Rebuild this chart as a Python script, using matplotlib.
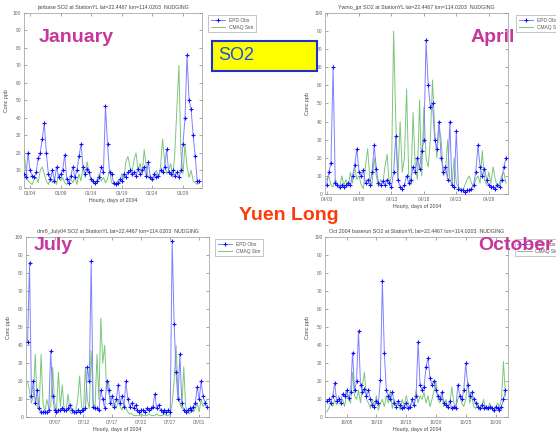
import numpy as np
import pandas as pd
import matplotlib
matplotlib.use('Agg')
import matplotlib.pyplot as plt
import matplotlib.dates as mdates

# ---- data (8-hourly samples) ----
jan_start = '2004-01-03 00:00'
jan_obs = [8, 6, 20, 10, 7, 6, 9, 17, 20, 28, 37, 20, 8, 5, 10, 4, 12, 6, 8, 10, 19,
           5, 3, 7, 12, 6, 10, 18, 25, 12, 8, 11, 9, 5, 4, 3, 4, 6, 12, 9, 47, 25,
           9, 8, 3, 2, 3, 5, 4, 8, 6, 9, 10, 8, 9, 7, 11, 8, 10, 12, 7, 15, 6,
           5, 8, 6, 7, 10, 9, 12, 22, 9, 8, 10, 7, 9, 6, 10, 25, 40, 76, 50, 45, 30,
           18, 4, 4]
jan_sim = [22, 10, 4, 3, 2, 5, 6, 3, 10, 12, 8, 4, 2, 6, 3, 5, 2, 8, 4, 6, 3,
           2, 4, 5, 3, 6, 2, 8, 4, 12, 6, 15, 8, 4, 3, 2, 5, 8, 4, 6, 3, 5,
           10, 3, 2, 2, 4, 3, 8, 5, 15, 18, 12, 9, 16, 20, 10, 14, 8, 22, 12, 6, 5,
           4, 8, 10, 6, 12, 28, 15, 8, 10, 14, 6, 20, 45, 70, 20, 8, 25, 12, 6, 10, 4,
           3, 2, 3]

apr_start = '2004-04-03 00:00'
apr_obs = [5, 12, 17, 70, 6, 5, 4, 5, 4, 5, 6, 5, 10, 16, 25, 12, 10, 13, 6, 8, 5,
           12, 27, 14, 6, 5, 7, 5, 8, 6, 4, 12, 32, 8, 4, 3, 5, 10, 6, 8, 15, 12,
           20, 14, 24, 30, 85, 60, 48, 50, 30, 25, 40, 20, 12, 15, 8, 40, 5, 4,
           35, 3, 2, 2, 1, 2, 2, 3, 5, 12, 27, 15, 10, 14, 8, 5, 4, 4, 3, 5, 4,
           8, 15, 20]
apr_sim = [8, 10, 5, 4, 8, 6, 3, 10, 5, 8, 4, 12, 6, 15, 8, 10, 5, 3, 16, 25, 8,
           5, 20, 10, 4, 8, 6, 15, 22, 5, 10, 90, 40, 8, 40, 12, 20, 58, 10, 5, 45, 15,
           8, 52, 10, 48, 20, 15, 30, 63, 35, 20, 38, 30, 10, 12, 30, 8, 5, 20,
           6, 4, 3, 2, 5, 8, 10, 6, 4, 8, 10, 6, 24, 8, 5, 12, 6, 15, 8, 4, 6,
           10, 12, 6]

jul_start = '2004-07-02 08:00'
jul_obs = [42, 86, 12, 20, 8, 15, 5, 3, 3, 3, 3, 4, 37, 12, 4, 3, 4, 4, 5, 4, 4,
           5, 7, 4, 3, 3, 4, 3, 4, 4, 5, 28, 20, 87, 6, 5, 5, 4, 15, 10, 5, 20,
           15, 8, 12, 6, 10, 18, 8, 12, 6, 20, 10, 6, 8, 5, 7, 4, 3, 4, 4, 3, 5,
           4, 5, 6, 13, 5, 7, 4, 3, 4, 3, 4, 3, 98, 52, 25, 10, 35, 8, 4, 3, 4,
           5, 4, 6, 8, 17, 10, 20, 12, 8, 6]
jul_sim = [20, 15, 8, 12, 35, 6, 4, 35, 8, 3, 10, 5, 6, 28, 8, 4, 25, 6, 18, 3, 4,
           13, 3, 2, 3, 4, 10, 23, 6, 4, 28, 10, 5, 37, 8, 6, 35, 10, 55, 30, 40, 15,
           20, 10, 6, 8, 5, 10, 6, 4, 8, 5, 3, 2, 2, 1, 1, 1, 1, 2, 1, 1, 1,
           2, 1, 1, 1, 2, 1, 1, 1, 2, 1, 1, 2, 8, 20, 40, 15, 8, 5, 28, 6, 3,
           2, 4, 3, 5, 8, 3, 10, 6, 8, 10]

oct_start = '2004-10-01 16:00'
oct_obs = [9, 10, 8, 12, 19, 9, 10, 8, 13, 12, 15, 11, 14, 36, 15, 20, 48, 18, 14, 16, 12,
           15, 10, 7, 6, 9, 8, 21, 76, 36, 15, 12, 10, 14, 8, 6, 9, 7, 5, 6, 8, 5,
           6, 10, 7, 12, 42, 18, 15, 17, 28, 33, 22, 18, 20, 15, 12, 10, 14, 8, 7, 6, 9,
           5, 6, 5, 18, 12, 10, 15, 30, 18, 12, 14, 10, 8, 6, 5, 7, 5, 6, 5, 6, 5,
           4, 6, 5, 4, 6, 10, 15]
oct_sim = [3, 5, 8, 6, 10, 7, 12, 8, 10, 6, 14, 10, 8, 25, 12, 10, 15, 8, 18, 25, 10,
           8, 5, 10, 6, 12, 4, 8, 10, 6, 12, 8, 15, 5, 10, 6, 8, 4, 10, 6, 12, 8,
           5, 10, 6, 15, 8, 12, 10, 14, 8, 12, 6, 10, 15, 20, 10, 8, 12, 6, 10, 5, 8,
           17, 8, 6, 10, 12, 8, 6, 10, 20, 8, 12, 6, 5, 8, 4, 6, 10, 5, 4, 8, 6,
           3, 5, 8, 6, 10, 31, 12]

jan_ticks = ['2004-01-04', '2004-01-09', '2004-01-14', '2004-01-19', '2004-01-24', '2004-01-29']
apr_ticks = ['2004-04-03', '2004-04-08', '2004-04-13', '2004-04-18', '2004-04-23', '2004-04-28']
jul_ticks = ['2004-07-07', '2004-07-12', '2004-07-17', '2004-07-22', '2004-07-27', '2004-08-01']
oct_ticks = ['2004-10-05', '2004-10-10', '2004-10-15', '2004-10-20', '2004-10-25', '2004-10-30']

titles = ['janbase SO2 at StationYL lat=22.4467 lon=114.0203  NUDGING',
          'Ywmo_jpr SO2 at StationYL lat=22.4467 lon=114.0203  NUDGING',
          'dnr8_July04 SO2 at StationYL lat=22.4467 lon=114.0203  NUDGING',
          'Oct 2004 baserun SO2 at StationYL lat=22.4467 lon=114.0203  NUDGING']
xlims = [('2004-01-03 00:00', '2004-02-01 02:00'),
         ('2004-04-02 19:00', '2004-05-01 00:00'),
         ('2004-07-02 02:00', '2004-08-02 17:00'),
         ('2004-10-01 10:00', '2004-11-01 03:00')]

# ---- figure ----
fig = plt.figure(figsize=(5.56, 4.33), dpi=100)
plt.rcParams['font.family'] = ['Liberation Sans', 'DejaVu Sans']

positions = [[0.043, 0.566, 0.320, 0.404],
             [0.585, 0.552, 0.329, 0.418],
             [0.047, 0.036, 0.329, 0.416],
             [0.585, 0.036, 0.329, 0.416]]
legend_pos = [(0.370, 0.970), (0.924, 0.970), (0.383, 0.453), (0.921, 0.453)]
panels = [(jan_start, jan_obs, jan_sim, jan_ticks),
          (apr_start, apr_obs, apr_sim, apr_ticks),
          (jul_start, jul_obs, jul_sim, jul_ticks),
          (oct_start, oct_obs, oct_sim, oct_ticks)]

grey = '#666666'
for k, (start, obs, sim, ticks) in enumerate(panels):
    ax = fig.add_axes(positions[k])
    t_obs = pd.date_range(start, periods=len(obs), freq='8h')
    t_sim = pd.date_range(start, periods=len(sim), freq='8h')
    ax.plot(t_sim, sim, color='#7cc67c', lw=0.7, label='CMAQ Sim', zorder=2)
    ax.plot(t_obs, obs, color='#8080ff', lw=0.7, marker='+', ms=3.5, mew=0.8,
            mec='#1010ff', label='EPD Obs', zorder=3)
    ax.set_xlim(pd.Timestamp(xlims[k][0]), pd.Timestamp(xlims[k][1]))
    ax.set_ylim(0, 100)
    ax.set_yticks(np.arange(0, 101, 10))
    ax.set_xticks(pd.to_datetime(ticks))
    ax.xaxis.set_major_formatter(mdates.DateFormatter('%m/%d'))
    ax.tick_params(direction='in', length=2, width=0.4, labelsize=3.5,
                   colors=grey, top=True, right=True, pad=2)
    for s in ax.spines.values():
        s.set_color('#999999')
        s.set_linewidth(0.5)
    ax.set_title(titles[k], fontsize=3.8, color='#444444', pad=3)
    ax.set_ylabel('Conc ppb', fontsize=3.8, color='#444444', labelpad=3)
    ax.set_xlabel('Hourly, days of 2004', fontsize=3.8, color='#444444', labelpad=1.5)
    h, l = ax.get_legend_handles_labels()
    leg = fig.legend(h[::-1], l[::-1], loc='upper left', bbox_to_anchor=legend_pos[k],
                     fontsize=3.5, frameon=True, fancybox=False, handlelength=3,
                     borderpad=0.5, labelspacing=0.4)
    leg.set_zorder(4)
    leg.get_frame().set_linewidth(0.5)
    leg.get_frame().set_edgecolor('#999999')
    for txt in leg.get_texts():
        txt.set_color('#555555')

# ---- slide annotations ----
mag = '#c8369c'
labels = [('January', 39, 37, 'left'), ('April', 493, 37, 'center'),
          ('July', 53, 246, 'center'), ('October', 516, 246, 'center')]
for name, px, py, ha in labels:
    fig.text(px / 556, 1 - py / 433, name, color=mag, fontsize=14,
             fontweight='bold', va='center', ha=ha, zorder=10)
fig.text(289 / 556, 1 - 215 / 433, 'Yuen Long', color='#ff3a0a', fontsize=14,
         fontweight='bold', va='center', ha='center', zorder=10)

box = plt.Rectangle((212 / 556, 1 - 71 / 433), 105 / 556, 30 / 433,
                    transform=fig.transFigure, facecolor='#ffff00',
                    edgecolor='#2030d0', lw=1.5)
fig.patches.append(box)
fig.text(218 / 556, 1 - 56 / 433, 'SO2', color='#2050d8', fontsize=13,
         va='center', ha='left', zorder=10)

fig.savefig('out.png', dpi=100)
